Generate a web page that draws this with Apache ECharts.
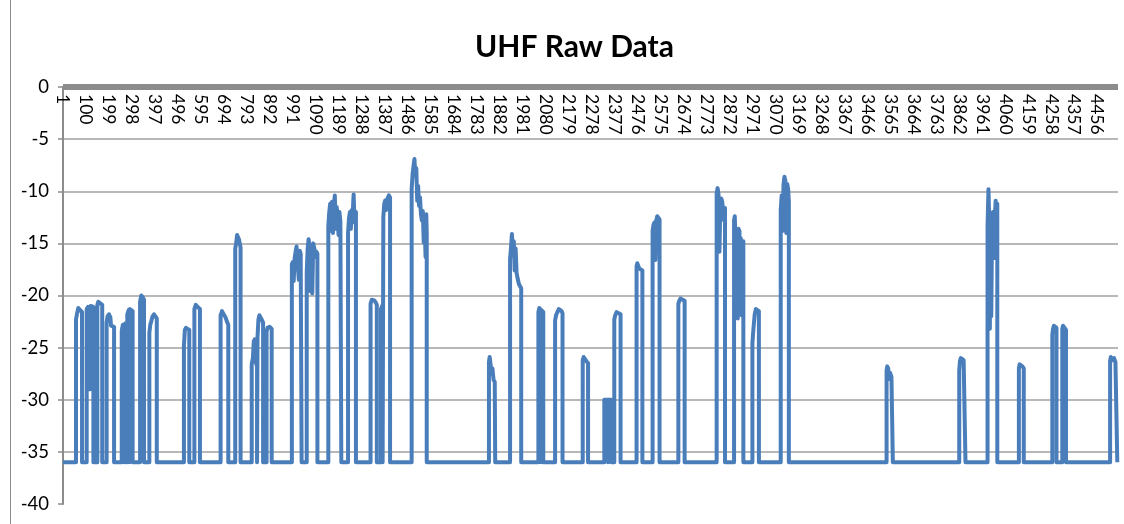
<!DOCTYPE html>
<html>
<head>
<meta charset="utf-8">
<title>UHF Raw Data</title>
<script src="https://cdn.jsdelivr.net/npm/echarts@6/dist/echarts.min.js"></script>
<style>
  html, body { margin: 0; padding: 0; background: #fff; }
  #chart { width: 1124px; height: 524px; }
</style>
</head>
<body>
<div id="chart"></div>
<script>
// sample number (x) and raw level (y), one burst per line
const sampleNo = [
  0,
  56, 56, 60, 66, 74, 82, 82,
  102, 102, 108, 115, 117, 119, 125, 131, 131,
  148, 148, 152, 160, 169, 169,
  188, 188, 192, 198, 204, 207, 214, 220, 220,
  253, 253, 258, 262, 262, 263, 268, 271, 271, 272, 276, 276, 277, 283, 287, 287, 288, 294, 300, 300,
  332, 332, 337, 344, 349, 349,
  372, 372, 376, 380, 386, 392, 398, 404, 404,
  521, 521, 525, 530, 538, 544, 544,
  566, 566, 572, 580, 590, 590,
  679, 679, 685, 692, 700, 708, 712, 712,
  742, 742, 746, 750, 754, 758, 765, 765,
  813, 813, 818, 822, 826, 830, 836, 836, 838, 842, 846, 852, 856, 862, 862,
  877, 877, 881, 890, 899, 899,
  986, 986, 990, 994, 998, 1002, 1006, 1012, 1016, 1020, 1024, 1028, 1028,
  1050, 1050, 1054, 1058, 1062, 1066, 1070, 1074, 1078, 1084, 1088, 1092, 1096, 1096,
  1143, 1143, 1147, 1151, 1155, 1159, 1163, 1167, 1171, 1175, 1179, 1183, 1187, 1191, 1195, 1199, 1199,
  1228, 1228, 1232, 1236, 1240, 1244, 1248, 1252, 1256, 1262, 1262,
  1325, 1325, 1330, 1335, 1342, 1348, 1352, 1352,
  1370, 1370, 1375, 1377, 1377, 1380, 1384, 1388, 1392, 1396, 1400, 1404, 1409, 1409,
  1502, 1502, 1506, 1510, 1514, 1518, 1522, 1526, 1530, 1534, 1538, 1542, 1546, 1550, 1554, 1558, 1562, 1565, 1567, 1567,
  1835, 1835, 1838, 1842, 1846, 1850, 1855, 1860, 1862, 1862,
  1926, 1926, 1930, 1934, 1938, 1942, 1946, 1950, 1954, 1958, 1964, 1970, 1974, 1974,
  2048, 2048, 2052, 2058, 2060, 2060, 2061, 2064, 2069, 2069,
  2120, 2120, 2124, 2130, 2136, 2142, 2148, 2152, 2152,
  2239, 2239, 2243, 2249, 2255, 2262, 2262,
  2332, 2332, 2340, 2348, 2348, 2350, 2356, 2362, 2362,
  2375, 2375, 2379, 2385, 2392, 2402, 2402,
  2471, 2471, 2474, 2478, 2482, 2488, 2496, 2496,
  2540, 2540, 2544, 2548, 2552, 2556, 2560, 2564, 2570, 2570,
  2651, 2651, 2655, 2660, 2668, 2678, 2678,
  2816, 2816, 2820, 2824, 2828, 2832, 2836, 2840, 2844, 2848, 2852, 2852,
  2891, 2891, 2894, 2898, 2901, 2904, 2907, 2910, 2914, 2917, 2920, 2923, 2926, 2931, 2931,
  2970, 2970, 2973, 2976, 2980, 2985, 2990, 2998, 2998,
  3092, 3092, 3096, 3100, 3104, 3108, 3112, 3116, 3120, 3124, 3127, 3127,
  3548, 3548, 3551, 3555, 3559, 3563, 3569, 3575, 3575,
  3861, 3861, 3864, 3868, 3874, 3880, 3888, 3888,
  3983, 3983, 3987, 3990, 3993, 3996, 3999, 4002, 4006, 4010, 4014, 4018, 4021, 4025, 4025,
  4118, 4118, 4121, 4127, 4133, 4139, 4139,
  4262, 4262, 4265, 4269, 4274, 4280, 4280,
  4305, 4305, 4308, 4314, 4321, 4321,
  4511, 4511, 4514, 4518, 4523, 4528, 4534, 4542, 4542,
  4545
];
const rawLevel = [
  -36,
  -36, -22.3, -21.8, -21.2, -21.3, -21.6, -36,
  -36, -21.3, -21.1, -21.2, -29.0, -21.0, -20.9, -21.1, -36,
  -36, -20.9, -20.6, -20.7, -20.9, -36,
  -36, -22.6, -22.0, -21.8, -22.1, -22.9, -22.8, -23.0, -36,
  -36, -23.4, -22.8, -22.9, -36, -23.0, -22.7, -22.8, -36, -22.9, -23.0, -36, -21.8, -21.4, -21.5, -36, -21.3, -21.2, -21.5, -36,
  -36, -20.6, -20.0, -20.2, -20.4, -36,
  -36, -23.6, -22.8, -22.5, -22.0, -21.8, -22.0, -22.2, -36,
  -36, -24.8, -23.3, -23.1, -23.2, -23.3, -36,
  -36, -21.3, -20.9, -21.1, -21.3, -36,
  -36, -21.9, -21.5, -21.6, -22.1, -22.6, -22.8, -36,
  -36, -15.5, -15.0, -14.2, -14.1, -14.6, -15.4, -36,
  -36, -26.6, -26.0, -24.4, -24.2, -26.4, -26.8, -36, -24.0, -22.3, -21.9, -22.0, -22.3, -22.6, -36,
  -36, -23.5, -23.1, -23.0, -23.2, -36,
  -36, -17.0, -16.8, -18.6, -16.4, -15.8, -15.3, -15.2, -18.5, -15.7, -16.0, -15.9, -36,
  -36, -17.8, -15.5, -14.6, -15.3, -19.6, -15.4, -19.8, -15.0, -15.6, -16.3, -15.8, -16.0, -36,
  -36, -13.4, -12.0, -11.2, -13.8, -11.0, -14.0, -11.3, -10.4, -13.6, -11.5, -12.2, -14.2, -12.0, -12.9, -13.0, -36,
  -36, -14.0, -12.6, -12.0, -13.6, -11.8, -12.2, -10.3, -13.0, -12.0, -36,
  -36, -20.8, -20.4, -20.3, -20.5, -20.7, -20.9, -36,
  -36, -21.3, -21.0, -21.2, -36, -12.5, -11.2, -10.9, -11.8, -10.8, -10.6, -10.4, -10.6, -36,
  -36, -9.8, -8.4, -7.6, -6.9, -8.5, -7.8, -10.9, -9.5, -11.4, -10.6, -12.2, -12.8, -11.9, -14.9, -13.3, -16.3, -12.2, -14.0, -36,
  -36, -26.4, -25.9, -26.6, -27.5, -27.0, -28.1, -28.3, -28.2, -36,
  -36, -16.5, -15.4, -14.1, -15.9, -14.8, -17.6, -15.5, -17.8, -18.3, -18.9, -19.0, -19.3, -36,
  -36, -21.6, -21.2, -21.3, -21.4, -36, -21.4, -21.5, -21.6, -36,
  -36, -22.4, -21.9, -21.6, -21.3, -21.4, -21.5, -21.7, -36,
  -36, -26.2, -25.9, -26.0, -26.3, -26.5, -36,
  -36, -30.0, -29.9, -30.0, -36, -30.0, -29.9, -30.0, -36,
  -36, -22.3, -21.9, -21.6, -21.7, -21.8, -36,
  -36, -17.2, -16.9, -17.0, -17.4, -17.5, -17.6, -36,
  -36, -13.8, -13.2, -13.0, -16.6, -12.8, -12.4, -12.5, -12.7, -36,
  -36, -20.8, -20.5, -20.3, -20.4, -20.5, -36,
  -36, -10.2, -9.7, -10.3, -15.8, -11.2, -10.7, -11.0, -11.9, -12.8, -11.6, -36,
  -36, -12.8, -12.4, -15.0, -21.8, -14.2, -22.2, -13.6, -13.8, -19.5, -14.5, -21.9, -16.0, -14.8, -36,
  -36, -24.6, -23.6, -22.8, -21.8, -21.3, -21.2, -21.5, -36,
  -36, -11.8, -10.4, -13.8, -9.4, -8.6, -9.0, -14.0, -9.3, -9.8, -11.0, -36,
  -36, -27.2, -26.8, -27.0, -28.0, -27.4, -27.8, -27.9, -36,
  -36, -27.2, -26.3, -26.0, -26.1, -26.2, -26.1, -36,
  -36, -13.4, -9.8, -12.5, -23.2, -13.0, -22.0, -14.5, -12.0, -16.4, -12.6, -10.9, -16.0, -11.2, -36,
  -36, -27.0, -26.6, -26.7, -26.8, -27.0, -36,
  -36, -23.8, -23.2, -22.9, -23.0, -23.1, -36,
  -36, -23.2, -22.9, -23.0, -23.3, -36,
  -36, -26.3, -25.9, -25.8, -26.2, -26.0, -26.4, -26.3, -36,
  -36
];
const lastSample = 4545;
const labelStep = 99;   // x labels 1, 100, 199 ... 4456
const levelTicks = [-40, 0, 5];  // min, max, step

if (sampleNo.length !== rawLevel.length) {
  console.error('length mismatch', sampleNo.length, rawLevel.length);
}

const chart = echarts.init(document.getElementById('chart'));

chart.setOption({
  animation: false,
  textStyle: { fontFamily: 'Lato, "Liberation Sans", sans-serif' },
  title: {
    text: 'UHF Raw Data',
    left: 470,
    top: 27,
    textStyle: { fontSize: 30, fontWeight: 'bold', color: '#000', fontFamily: 'Lato' }
  },
  grid: { left: 63, right: 6, top: 87, bottom: 20, containLabel: false, outerBoundsMode: 'none' },
  graphic: [{
    type: 'line',
    shape: { x1: 10.5, y1: 0, x2: 10.5, y2: 524 },
    style: { stroke: '#8c8c8c', lineWidth: 1 }
  }],
  xAxis: {
    type: 'value',
    position: 'top',
    min: 0,
    max: lastSample,
    interval: labelStep,
    axisLine: { onZero: false, lineStyle: { color: '#8c8c8c', width: 6, cap: 'butt' } },
    axisTick: { show: false },
    splitLine: { show: false },
    axisLabel: {
      inside: true,
      rotate: 90,
      fontSize: 17.5,
      color: '#000',
      margin: 7,
      showMaxLabel: false,
      formatter: function (v) {
        return v % labelStep === 0 ? String(v + 1) : '';
      }
    }
  },
  yAxis: {
    type: 'value',
    min: levelTicks[0],
    max: levelTicks[1],
    interval: levelTicks[2],
    axisLine: { show: true, lineStyle: { color: '#8c8c8c', width: 2 } },
    axisTick: { show: true, length: 5, lineStyle: { color: '#8c8c8c', width: 1.5 } },
    splitLine: { show: true, showMinLine: false, lineStyle: { color: '#a0a0a0', width: 1.5 } },
    axisLabel: { fontSize: 18.5, color: '#000', margin: 14 }
  },
  series: [{
    type: 'line',
    showSymbol: false,
    data: sampleNo.map((x, k) => [x, rawLevel[k]]),
    lineStyle: { color: '#4a7ebb', width: 4, join: 'round' },
    itemStyle: { color: '#4a7ebb' }
  }]
});
</script>
</body>
</html>
